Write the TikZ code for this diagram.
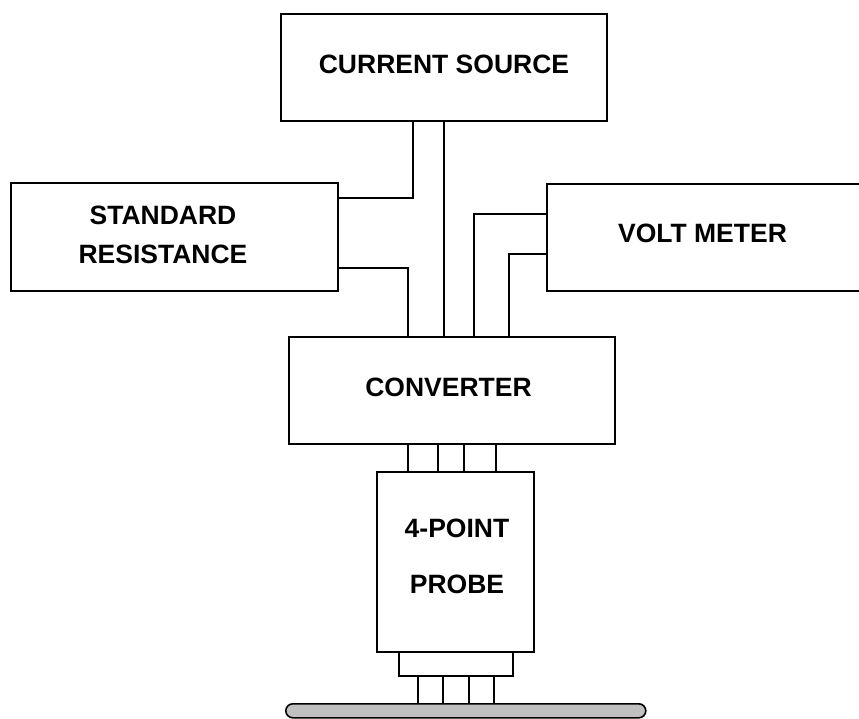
\documentclass[tikz,border=0pt]{standalone}
\usepackage{fontspec}
\setmainfont{Liberation Sans}
\definecolor{samplegray}{HTML}{C0C0C0}
\begin{document}
\begin{tikzpicture}[x=1pt,y=-1pt,
  box/.style={draw, line width=1.6pt, rectangle, inner sep=0pt, anchor=north west},
  wire/.style={line width=1.6pt},
  lbl/.style={font=\fontsize{26.5}{39}\selectfont\bfseries, align=center, inner sep=0pt}]
\useasboundingbox (0,0) rectangle (859,718);
% boxes
\node[box, minimum width=326pt, minimum height=107pt] (cs) at (280,13) {};
\node[box, minimum width=327pt, minimum height=108pt] (sr) at (10,182) {};
\node[box, minimum width=330pt, minimum height=107pt] (vm) at (546,183) {};
\node[box, minimum width=326pt, minimum height=107pt] (cv) at (288,336) {};
\node[box, minimum width=157pt, minimum height=180pt] (pr) at (376,471) {};
\node[box, minimum width=114pt, minimum height=24pt] (tip) at (398,651) {};
\node[draw, line width=1.6pt, fill=samplegray, rounded corners=7pt, inner sep=0pt,
      minimum width=360pt, minimum height=14pt, anchor=north west] (smp) at (285,703) {};
% labels
\node[lbl] (tcs) at (444,64.5) {CURRENT SOURCE};
\node[lbl] (tsr) at (163,235) {STANDARD\\RESISTANCE};
\node[lbl] (tvm) at (702.5,233) {VOLT METER};
\node[lbl] (tcv) at (448.5,387) {CONVERTER};
\node[lbl] (tpr) at (457,556.5) {4-POINT\\[17pt]PROBE};
% wires
\draw[wire] (413,0 |- cs.south) -- (413,198) -- (sr.east |- 0,198);
\draw[wire] (444,0 |- cs.south) -- (444,0 |- cv.north);
\draw[wire] (sr.east |- 0,268) -- (408,268) -- (408,0 |- cv.north);
\draw[wire] (vm.west |- 0,214) -- (474,214) -- (474,0 |- cv.north);
\draw[wire] (vm.west |- 0,254) -- (509,254) -- (509,0 |- cv.north);
\foreach \x in {408,438,464,496}
  \draw[wire] (\x,0 |- cv.south) -- (\x,0 |- pr.north);
\foreach \x in {418,443,469,494}
  \draw[wire] (\x,0 |- tip.south) -- (\x,0 |- smp.north);
\end{tikzpicture}
\end{document}
